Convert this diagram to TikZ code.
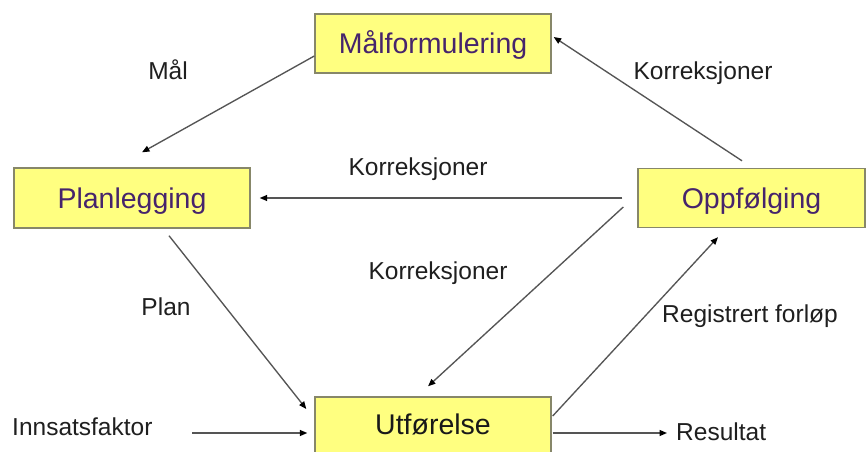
\documentclass[tikz,border=0pt]{standalone}
\usepackage{fontspec}
\setmainfont{Liberation Sans}
\usetikzlibrary{arrows.meta,calc}
\definecolor{boxfill}{RGB}{255,255,128}
\definecolor{boxline}{RGB}{135,135,105}
\definecolor{boxtext}{RGB}{70,36,108}
\definecolor{conn}{RGB}{85,85,85}
\begin{document}
\begin{tikzpicture}[x=1pt,y=-1pt,
  stagebox/.style={draw=boxline, line width=1.4pt, fill=boxfill, minimum height=59pt,
    inner sep=0pt, text height=20pt, text depth=0pt,
    font=\fontsize{28.5}{30}\selectfont, text=boxtext},
  flow/.style={draw=conn, line width=1.35pt, -{Triangle[length=7.5pt,width=6pt,color=black]}},
  lbl/.style={font=\fontsize{24.5}{27}\selectfont, text=black!88, inner sep=0pt}]
\useasboundingbox (0,0) rectangle (867,452);
\clip (0,0) rectangle (867,452);
\fill[white] (0,0) rectangle (867,452);

% stages of the cycle
\node[stagebox, minimum width=236pt] (mal) at (433,43.5) {Målformulering};
\node[stagebox, minimum width=236pt, minimum height=60pt] (plan) at (132,198) {Planlegging};
\node[stagebox, minimum width=227pt] (opp) at (751.5,198) {Oppfølging};
\node[stagebox, minimum width=236pt, minimum height=60pt, text=black!90, text depth=6pt] (utf) at (433,427) {Utførelse};

% connector labels
\node[lbl, anchor=base] (lmal) at (168,79) {Mål};
\node[lbl, anchor=base] (lk1) at (703,80) {Korreksjoner};
\node[lbl, anchor=base] (lk2) at (418,175) {Korreksjoner};
\node[lbl, anchor=base] (lk3) at (438,279) {Korreksjoner};
\node[lbl, anchor=base] (lreg) at (750,322) {Registrert forløp};
\node[lbl, anchor=base] (lplan) at (166,315) {Plan};
\node[lbl, anchor=base west] (linn) at (12,435) {Innsatsfaktor};
\node[lbl, anchor=base west] (lres) at (676,440) {Resultat};

% free ends of the input and output arrows
\coordinate (inn) at (192,433);
\coordinate (res) at (667,433);

% connectors
\draw[flow] ($(mal.west)+(0,12.5)$) -- ($(plan.north)+(10,-15)$);
\draw[flow] ($(opp.north)+(-9.5,-7)$) -- ($(mal.east)+(2,-6.5)$);
\draw[flow] ($(opp.west)+(-15,0)$) -- ($(plan.east)+(9,0)$);
\draw[flow] ($(opp.west)+(-14,9)$) -- ($(utf.north)+(-5,-10)$);
\draw[flow] ($(utf.east)+(1,-11)$) -- ($(opp.south)+(-33.5,9)$);
\draw[flow] ($(plan.south)+(37,7)$) -- ($(utf.west)+(-8,-18)$);
\draw[flow] (inn) -- ($(utf.west)+(-7,6)$);
\draw[flow] ($(utf.east)+(1,6)$) -- (res);
\end{tikzpicture}
\end{document}
